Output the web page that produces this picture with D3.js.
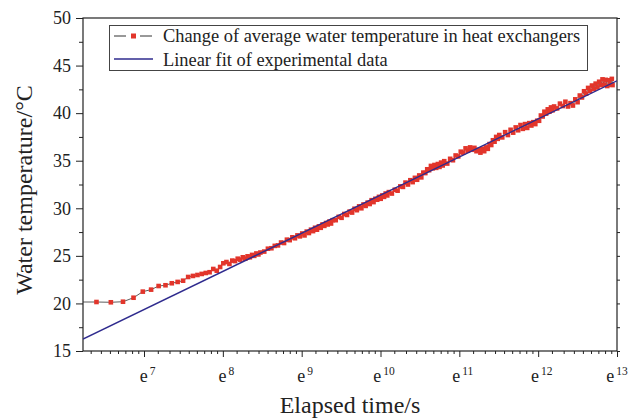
<!DOCTYPE html>
<html>
<head>
<meta charset="utf-8">
<script src="https://cdn.jsdelivr.net/npm/d3@7"></script>
<style>
  body { margin: 0; background: #fff; }
  svg text { font-family: "Liberation Serif", "Times New Roman", serif; fill: #222; }
</style>
</head>
<body>
<div id="canvas"></div>
<script>
"use strict"

// elapsed time in seconds (sampled every 120 s, thinned out later on)
let elapsedTime = [
  480, 600, 720, 840, 960, 1080, 1200, 1320, 1440, 1560, 1680, 1800, 1920, 2040, 2160, 2280, 2400, 2520, 2640, 2760, 2880,
  3000, 3120, 3240, 3360, 3480, 3600, 3720, 3840, 3960, 4080, 4200, 4320, 4440, 4560, 4680, 4800,
  5040, 5280, 5520, 5760, 6000, 6240, 6480, 6720, 6960, 7200, 7440, 7680, 7920, 8160, 8400, 8640, 8880, 9120,
  9360, 9600, 9840, 10080, 10320, 10560, 10800, 11040, 11280, 11520, 11760, 12000,
  12480, 12960, 13440, 13920, 14400, 14880, 15360, 15840, 16320, 16800, 17280, 17760, 18240, 18720, 19200, 19680,
  20160, 20640, 21120, 21600, 22080, 22560, 23040, 23520, 24000, 24480,
  25440, 26400, 27360, 28320, 29280, 30240, 31200, 32160, 33120, 34080, 35040, 36000, 36960, 37920, 38880, 39840,
  40800, 41760, 42720, 43680, 44640, 45600, 46560, 47520, 48480, 49440,
  51360, 53280, 55200, 57120, 59040, 60960, 62880, 64800, 66720, 68640, 70560, 72480, 74400, 76320, 78240, 80160,
  82080, 84000, 85920, 87840, 89760, 91680, 93600, 95520, 97440, 99360,
  103200, 107040, 110880, 114720, 118560, 122400, 126240, 130080, 133920, 137760, 141600, 145440, 149280, 153120,
  156960, 160800, 164640, 168480, 172320, 176160, 180000, 183840, 187680, 191520, 195360, 199200,
  206880, 214560, 222240, 229920, 237600, 245280, 252960, 260640, 268320, 276000, 283680, 291360, 299040, 306720,
  314400, 322080, 329760, 337440, 345120, 352800, 360480, 368160, 375840, 383520, 391200, 398880, 406560, 414240, 418000
];

// average water temperature in the heat exchangers, degC
let waterTemp = [
  20.15, 20.15, 20.12, 20.18, 20.60, 21.24, 21.45, 21.83, 21.91, 22.12, 22.26, 22.39, 22.78, 22.89, 22.99, 23.10, 23.20, 23.28, 23.62, 23.44, 23.83,
  24.22, 24.35, 24.15, 24.50, 24.45, 24.70, 24.60, 24.85, 24.70, 24.95, 24.85, 25.10, 25.00, 25.25, 25.15, 25.35,
  25.45, 25.75, 25.80, 26.05, 26.10, 26.40, 26.35, 26.70, 26.65, 26.95, 26.85, 27.15, 27.05, 27.35, 27.15, 27.55, 27.40, 27.75,
  27.60, 27.95, 27.75, 28.10, 27.95, 28.30, 28.15, 28.45, 28.30, 28.60, 28.40, 28.75,
  28.75, 29.10, 29.00, 29.40, 29.30, 29.65, 29.55, 29.95, 29.80, 30.20, 30.00, 30.40, 30.25, 30.60, 30.45, 30.85,
  30.65, 31.00, 30.90, 31.20, 31.00, 31.35, 31.20, 31.55, 31.35, 31.70,
  31.55, 31.95, 31.85, 32.30, 32.25, 32.70, 32.50, 32.95, 32.75, 33.20, 33.00, 33.45, 33.25, 33.75, 33.70, 34.10,
  34.00, 34.45, 34.20, 34.55, 34.25, 34.65, 34.35, 34.80, 34.50, 34.95,
  34.70, 35.20, 35.05, 35.55, 35.45, 35.95, 35.85, 36.30, 36.05, 36.40, 36.15, 36.35, 36.00, 36.15, 35.85, 36.25,
  36.00, 36.40, 36.25, 36.75, 36.65, 37.15, 37.00, 37.50, 37.30, 37.70,
  37.45, 38.00, 37.70, 38.25, 37.95, 38.50, 38.20, 38.75, 38.35, 38.85, 38.45, 38.95, 38.70, 39.05,
  38.85, 39.20, 39.20, 39.75, 39.65, 40.15, 39.95, 40.40, 40.15, 40.60, 40.30, 40.70,
  40.50, 41.00, 40.75, 41.20, 40.70, 41.05, 40.80, 41.45, 41.15, 41.85, 41.65, 42.30, 42.05, 42.65,
  42.35, 42.90, 42.55, 43.10, 42.70, 43.30, 42.95, 43.55, 43.00, 43.50, 42.85, 43.45, 43.00, 43.60, 42.95
];

// linear fit: T = fitIntercept + fitSlope * ln(t)
let fitSlope = 4.007;
let fitIntercept = -8.688;

let xTickPowers = [7, 8, 9, 10, 11, 12, 13];
let yTicks = [15, 20, 25, 30, 35, 40, 45, 50];
let legendLabels = ["Change of average water temperature in heat exchangers", "Linear fit of experimental data"];

let drawingWidth = 629;
let drawingHeight = 418;
let plotLeft = 83, plotRight = 617, plotTop = 18, plotBottom = 351;

let serif = "'Liberation Serif', 'Times New Roman', serif";
let dataRed = "#e2352b";
let fitBlue = "#2f2b8e";

let drawing = d3.select("#canvas")
    .append("svg")
    .attr("width", drawingWidth)
    .attr("height", drawingHeight);

let x = d3.scaleLog()
    .base(Math.E)
    .domain([Math.exp(6.226), Math.exp(13)])
    .range([plotLeft, plotRight]);

let y = d3.scaleLinear()
    .domain([15, 50])
    .range([plotBottom, plotTop]);

drawing.append("clipPath")
    .attr("id", "plotClip")
    .append("rect")
    .attr("x", plotLeft)
    .attr("y", plotTop)
    .attr("width", plotRight - plotLeft)
    .attr("height", plotBottom - plotTop);

/* minor ticks: 8 evenly spaced times inside each e-decade */
let xMinor = [];
for (let n = 6; n < 13; n++) {
    let a = Math.exp(n), b = Math.exp(n + 1);
    for (let k = 1; k < 9; k++) {
        let t = a + k * (b - a) / 9;
        if (t >= x.domain()[0]) xMinor.push(t);
    }
}
let xMajor = xTickPowers.map(p => Math.exp(p));

let yMinor = d3.range(17.5, 50, 5);
let yRight = d3.range(15, 50.01, 2.5);

function styleAxis(g) {
    g.attr("font-family", serif);
    g.select(".domain").remove();
    g.selectAll("line").attr("stroke", "#222").attr("stroke-width", 1);
    g.selectAll("text").attr("fill", "#222");
}

/* bottom axis */
drawing.append("g")
    .attr("transform", "translate(0," + plotBottom + ")")
    .call(d3.axisBottom(x).tickValues(xMinor).tickSize(3).tickFormat(""))
    .call(styleAxis);

drawing.append("g")
    .attr("transform", "translate(0," + plotBottom + ")")
    .call(d3.axisBottom(x).tickValues(xMajor).tickSize(6).tickFormat(""))
    .call(styleAxis);

/* tick labels e^n, centred a little right of the tick like the original */
let xLabels = drawing.append("g")
    .attr("font-family", serif)
    .selectAll("text")
    .data(xTickPowers)
    .join("text")
    .attr("x", d => x(Math.exp(d)) + (d > 12 ? 0 : 3.5))
    .attr("y", 382)
    .attr("text-anchor", "middle")
    .attr("font-size", 18);
xLabels.append("tspan").text("e");
xLabels.append("tspan")
    .attr("dx", 2)
    .attr("dy", -7.5)
    .attr("font-size", 11.5)
    .text(d => d);

/* left axis */
drawing.append("g")
    .attr("transform", "translate(" + plotLeft + ",0)")
    .call(d3.axisLeft(y).tickValues(yTicks).tickSize(7).tickPadding(5))
    .call(styleAxis)
    .selectAll("text")
    .attr("font-size", 18);

drawing.append("g")
    .attr("transform", "translate(" + plotLeft + ",0)")
    .call(d3.axisLeft(y).tickValues(yMinor).tickSize(4).tickFormat(""))
    .call(styleAxis);

/* right axis */
drawing.append("g")
    .attr("transform", "translate(" + plotRight + ",0)")
    .call(d3.axisRight(y).tickValues(yRight).tickSize(3).tickFormat(""))
    .call(styleAxis);

/* frame */
drawing.append("rect")
    .attr("x", plotLeft)
    .attr("y", plotTop)
    .attr("width", plotRight - plotLeft)
    .attr("height", plotBottom - plotTop)
    .attr("fill", "none")
    .attr("stroke", "#222")
    .attr("stroke-width", 1.2);

/* data */
let points = elapsedTime.map((t, i) => [t, waterTemp[i]]);

let plot = drawing.append("g").attr("clip-path", "url(#plotClip)");

plot.append("path")
    .datum(points)
    .attr("d", d3.line().x(d => x(d[0])).y(d => y(d[1])))
    .attr("fill", "none")
    .attr("stroke", "#333")
    .attr("stroke-width", 0.8);

let sq = 4.6;
plot.selectAll(".pt")
    .data(points)
    .join("rect")
    .attr("class", "pt")
    .attr("x", d => x(d[0]) - sq / 2)
    .attr("y", d => y(d[1]) - sq / 2)
    .attr("width", sq)
    .attr("height", sq)
    .attr("fill", dataRed);

/* linear fit */
plot.append("path")
    .datum(x.domain())
    .attr("d", d3.line().x(d => x(d)).y(d => y(fitIntercept + fitSlope * Math.log(d))))
    .attr("fill", "none")
    .attr("stroke", fitBlue)
    .attr("stroke-width", 1.4);

/* legend */
let legend = drawing.append("g");
legend.append("rect")
    .attr("x", 109.5)
    .attr("y", 25.5)
    .attr("width", 478)
    .attr("height", 45)
    .attr("fill", "#fff")
    .attr("stroke", "#444")
    .attr("stroke-width", 1);

legend.append("line")
    .attr("x1", 114).attr("x2", 126).attr("y1", 36).attr("y2", 36)
    .attr("stroke", "#333").attr("stroke-width", 1);
legend.append("line")
    .attr("x1", 140).attr("x2", 152).attr("y1", 36).attr("y2", 36)
    .attr("stroke", "#333").attr("stroke-width", 1);
legend.append("rect")
    .attr("x", 131).attr("y", 33.5).attr("width", 5).attr("height", 5)
    .attr("fill", dataRed);
legend.append("line")
    .attr("x1", 114).attr("x2", 153).attr("y1", 59).attr("y2", 59)
    .attr("stroke", fitBlue).attr("stroke-width", 1.4);

legend.selectAll(".lab")
    .data(legendLabels)
    .join("text")
    .attr("class", "lab")
    .attr("x", 163)
    .attr("y", (d, i) => 42 + i * 23.5)
    .attr("font-size", 18.4)
    .text(d => d);

/* axis titles */
drawing.append("text")
    .attr("transform", "translate(32,190) rotate(-90)")
    .attr("text-anchor", "middle")
    .attr("font-size", 24)
    .text("Water temperature/°C");

drawing.append("text")
    .attr("x", 350)
    .attr("y", 413)
    .attr("text-anchor", "middle")
    .attr("font-size", 24)
    .text("Elapsed time/s");
</script>
</body>
</html>
